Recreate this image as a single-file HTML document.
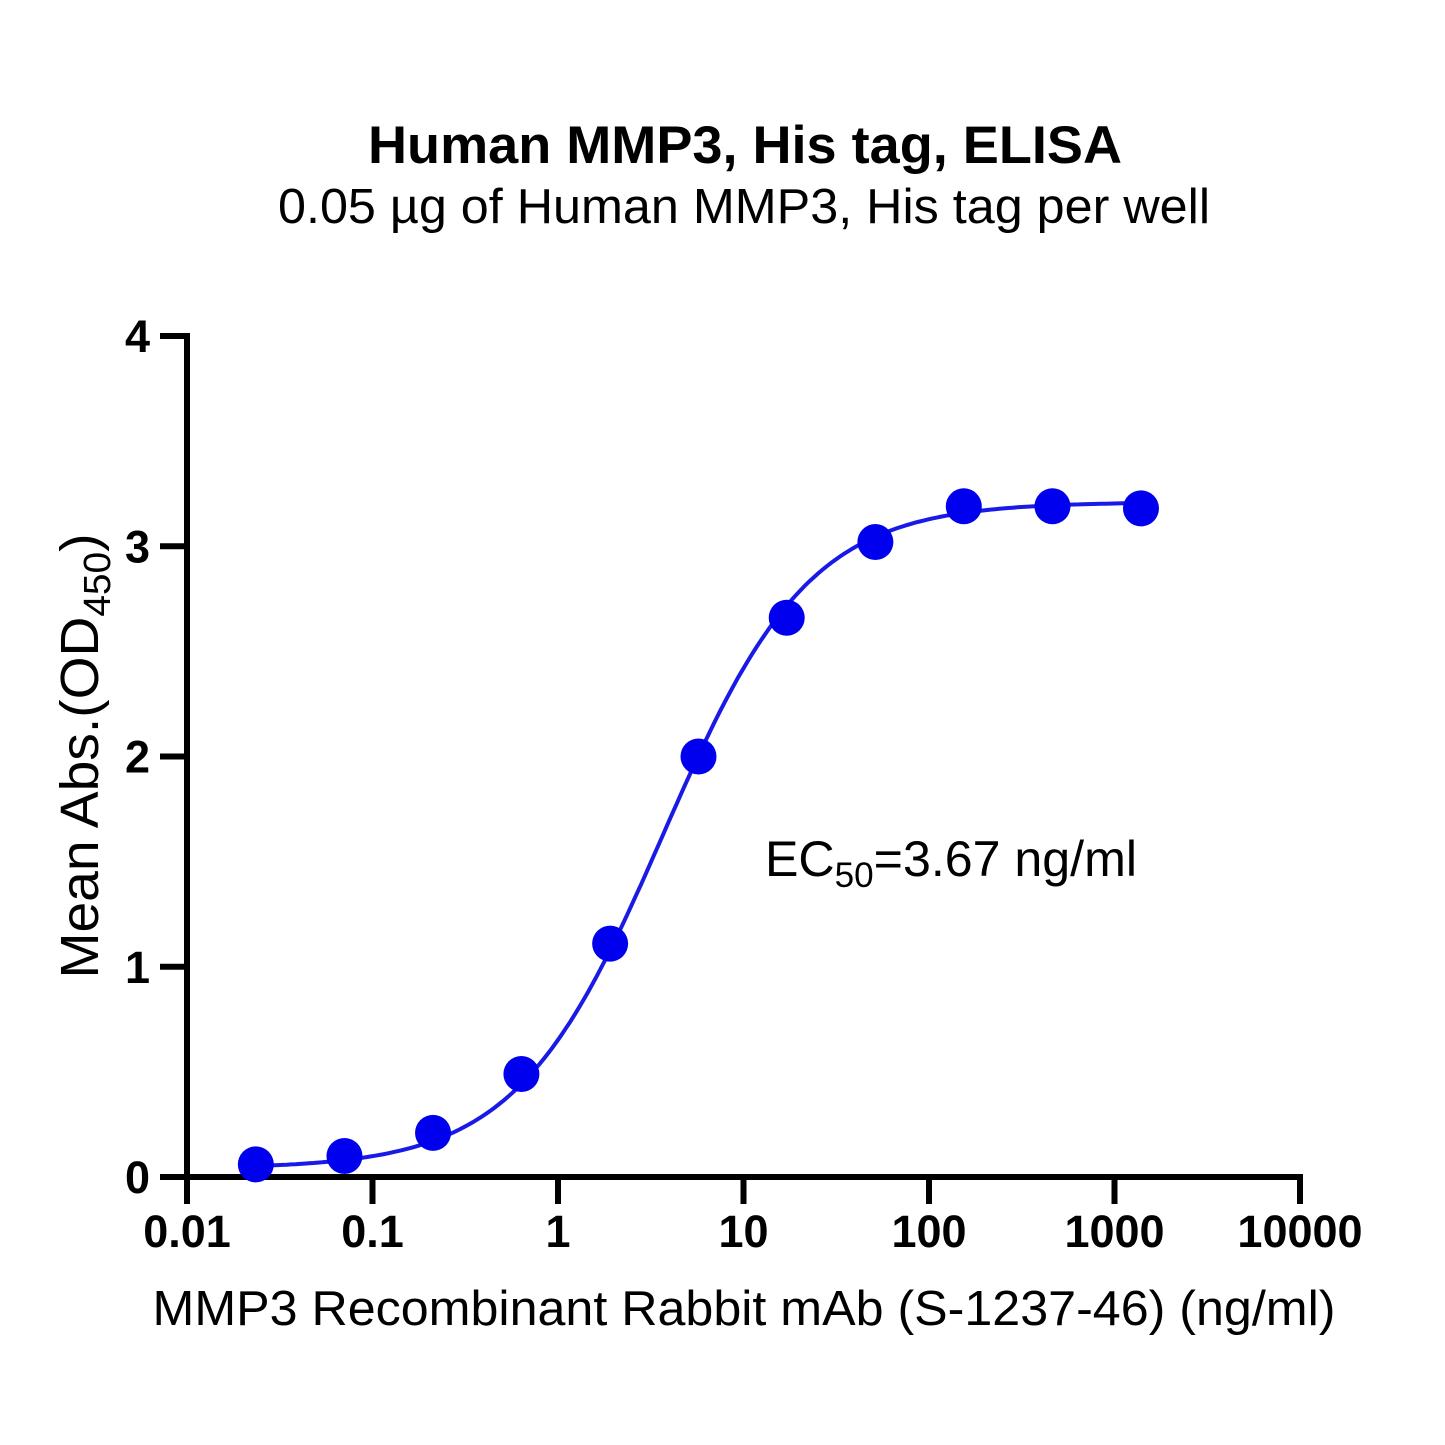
<!DOCTYPE html>
<html><head><meta charset="utf-8"><style>
body{margin:0;background:#fff}
svg{display:block;font-family:"Liberation Sans",sans-serif}
</style></head><body>
<svg id="chart" width="1445" height="1445" viewBox="0 0 1445 1445">
<rect width="1445" height="1445" fill="#fff"/>
<text x="745" y="163" text-anchor="middle" font-size="53" font-weight="bold" textLength="754" lengthAdjust="spacingAndGlyphs">Human MMP3, His tag, ELISA</text>
<text x="744" y="223" text-anchor="middle" font-size="49" textLength="932" lengthAdjust="spacingAndGlyphs">0.05 µg of Human MMP3, His tag per well</text>
<text transform="translate(98,756) rotate(-90)" text-anchor="middle" font-size="54" textLength="445" lengthAdjust="spacingAndGlyphs">Mean Abs.(OD<tspan font-size="38" dy="12">450</tspan><tspan dy="-12">)</tspan></text>
<text x="744" y="1325" text-anchor="middle" font-size="49" textLength="1183" lengthAdjust="spacingAndGlyphs">MMP3 Recombinant Rabbit mAb (S-1237-46) (ng/ml)</text>
<text x="765" y="876" font-size="50" textLength="372" lengthAdjust="spacingAndGlyphs">EC<tspan font-size="35" dy="11">50</tspan><tspan dy="-11">=3.67 ng/ml</tspan></text>
<g id="axes"></g>
<g id="marks"></g>
</svg>
<script>
const concentrations=[0.0235,0.0706,0.212,0.635,1.91,5.72,17.1,51.4,154,463,1389];
const absorbance=[0.06,0.10,0.21,0.49,1.11,2.00,2.66,3.02,3.19,3.19,3.18];
const fitBottom=0.04, fitTop=3.21, fitEC50=3.67, fitHill=1.1;
const xTicks=[0.01,0.1,1,10,100,1000,10000];
const xTickLabels=["0.01","0.1","1","10","100","1000","10000"];
const yTicks=[0,1,2,3,4];

const X0=187,X1=1300,Y0=1177,Y1=336;
const xs=v=>X0+(Math.log10(v)+2)/6*(X1-X0);
const ys=v=>Y0-v/4*(Y0-Y1);
const NS="http://www.w3.org/2000/svg";
const axes=document.getElementById('axes'),marks=document.getElementById('marks');
function mk(tag,attrs,parent){const e=document.createElementNS(NS,tag);for(const k in attrs)e.setAttribute(k,attrs[k]);parent.appendChild(e);return e;}

let e=mk('line',{x1:X0,y1:Y0,x2:X1+3,y2:Y0,stroke:'#000','stroke-width':6},axes);


e=mk('line',{x1:X0,y1:Y0+3,x2:X0,y2:Y1-3,stroke:'#000','stroke-width':6},axes);


xTicks.forEach((t,i)=>{
 const x=xs(t);
 let l=mk('line',{x1:x,y1:Y0,x2:x,y2:1204,stroke:'#000','stroke-width':6},axes);
 
 
 let tx=mk('text',{x:x,y:1247,'text-anchor':'middle','font-size':45,'font-weight':'bold'},axes);
 tx.textContent=xTickLabels[i];
 
 
});
yTicks.forEach(t=>{
 const y=ys(t);
 let l=mk('line',{x1:160,y1:y,x2:X0,y2:y,stroke:'#000','stroke-width':6},axes);
 
 
 let tx=mk('text',{x:150,y:y+16,'text-anchor':'end','font-size':45,'font-weight':'bold'},axes);
 tx.textContent=String(t);
 
 
});
let d='';
const lo=Math.log10(concentrations[0]),hi=Math.log10(concentrations[concentrations.length-1]);
for(let i=0;i<=200;i++){const c=Math.pow(10,lo+(hi-lo)*i/200);
 const v=fitBottom+(fitTop-fitBottom)/(1+Math.pow(fitEC50/c,fitHill));
 d+=(i?'L':'M')+xs(c).toFixed(1)+','+ys(v).toFixed(1);}
let p=mk('path',{d:d,fill:'none',stroke:'#1a1ae6','stroke-width':4},marks);


concentrations.forEach((c,i)=>{
 let ci=mk('circle',{cx:xs(c),cy:ys(absorbance[i]),r:18,fill:'#0000ee'},marks);
 
 
});
</script>
</body></html>
